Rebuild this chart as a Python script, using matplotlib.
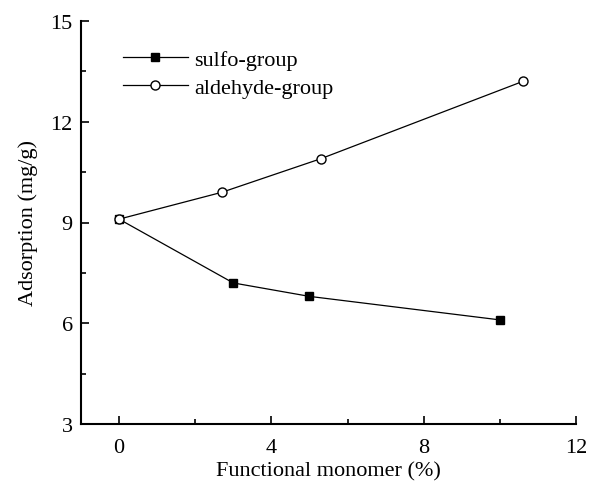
import matplotlib
matplotlib.use("Agg")
import matplotlib.pyplot as plt
from matplotlib.ticker import MultipleLocator

plt.rcParams['font.family'] = ['Liberation Serif', 'DejaVu Serif']

sulfo_x = [0, 3, 5, 10]
sulfo_y = [9.1, 7.2, 6.8, 6.1]
ald_x = [0, 2.7, 5.3, 10.6]
ald_y = [9.1, 9.9, 10.9, 13.2]

fig = plt.figure(figsize=(5.89, 4.85), dpi=100)
ax = fig.add_axes([81/589, 1-425/485, (576-81)/589, (425-22)/485])

ax.plot(sulfo_x, sulfo_y, color='black', lw=0.9, marker='s', ms=6,
        mfc='black', mec='black', label='sulfo-group')
ax.plot(ald_x, ald_y, color='black', lw=0.9, marker='o', ms=6.5,
        mfc='white', mec='black', mew=1, label='aldehyde-group')

ax.set_xlim(-1, 12)
ax.set_ylim(3, 15)
ax.xaxis.set_major_locator(MultipleLocator(4))
ax.xaxis.set_minor_locator(MultipleLocator(2))
ax.yaxis.set_major_locator(MultipleLocator(3))
ax.yaxis.set_minor_locator(MultipleLocator(1.5))
ax.spines['top'].set_visible(False)
ax.spines['right'].set_visible(False)
ax.spines['left'].set_linewidth(1.5)
ax.spines['bottom'].set_linewidth(1.5)
ax.tick_params(which='both', direction='in', width=1.2, labelsize=16)
ax.tick_params(axis='x', which='major', length=6, pad=10)
ax.tick_params(axis='y', which='major', length=6, pad=6)
ax.tick_params(which='minor', length=3.5)

ax.set_xlabel('Functional monomer (%)', fontsize=16, labelpad=3)
ax.set_ylabel('Adsorption (mg/g)', fontsize=16, labelpad=9)

leg = ax.legend(loc='upper left', bbox_to_anchor=(0.085, 0.93), frameon=False,
                fontsize=16, handlelength=2.9, handletextpad=0.3,
                labelspacing=0.33, borderaxespad=0, borderpad=0)

fig.savefig('out.png', dpi=100)
